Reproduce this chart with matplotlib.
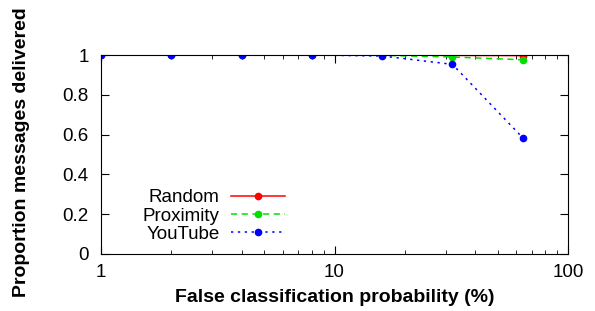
import numpy as np
import matplotlib.pyplot as plt
from matplotlib.ticker import FixedLocator, NullFormatter

plt.rcParams['font.family'] = ['Liberation Sans', 'DejaVu Sans']

prob = [1, 2, 4, 8, 16, 32, 64]
random_del = [1.0, 1.0, 1.0, 1.0, 1.0, 0.998, 0.997]
proximity_del = [1.0, 1.0, 1.0, 1.0, 0.998, 0.99, 0.976]
youtube_del = [1.0, 1.0, 1.0, 1.0, 0.995, 0.953, 0.584]

fig = plt.figure(figsize=(5.95, 3.11), dpi=100)
ax = fig.add_axes([101 / 595, 1 - 254 / 311, (568 - 101) / 595, (254 - 55) / 311])

ax.plot(prob, random_del, color='#ff0000', lw=1.1, marker='o', ms=4.5, label='Random')
ax.plot(prob, proximity_del, color='#00e000', lw=1.1, ls=(0, (4, 3)), marker='o', ms=4.5, label='Proximity')
ax.plot(prob, youtube_del, color='#0000ff', lw=1.1, ls=(0, (1.5, 3)), marker='o', ms=4.5, label='YouTube')

ax.set_xscale('log')
ax.set_xlim(1, 100)
ax.set_ylim(0, 1)
ax.set_xticks([1, 10, 100])
ax.set_xticklabels(['1', '10', '100'])
ax.xaxis.set_minor_locator(FixedLocator([d * 10 ** e for e in range(2) for d in range(2, 10)]))
ax.xaxis.set_minor_formatter(NullFormatter())
ax.set_yticks([0, 0.2, 0.4, 0.6, 0.8, 1])
ax.set_yticklabels(['0', '0.2', '0.4', '0.6', '0.8', '1'])
ax.tick_params(which='both', direction='in', top=True, right=True, labelsize=13.5)
ax.tick_params(axis='y', pad=9)
ax.tick_params(axis='x', pad=7)
ax.tick_params(which='major', length=6)
ax.tick_params(which='minor', length=3)

ax.set_xlabel('False classification probability (%)', fontsize=14, fontweight='bold')
ax.set_ylabel('Proportion messages delivered', fontsize=14, fontweight='bold')
ax.xaxis.set_label_coords(0.5, (254 - 289) / 199)
ax.yaxis.set_label_coords((30 - 101) / 467, (254 - 152) / 199)

ax.legend(loc='center right', bbox_to_anchor=((285 - 101) / 467, (254 - 216) / 199),
          frameon=False, markerfirst=False, fontsize=13.5, borderpad=0, borderaxespad=0,
          handlelength=2.9, handletextpad=0.6, labelspacing=0.06)

fig.savefig('out.png', dpi=100)
